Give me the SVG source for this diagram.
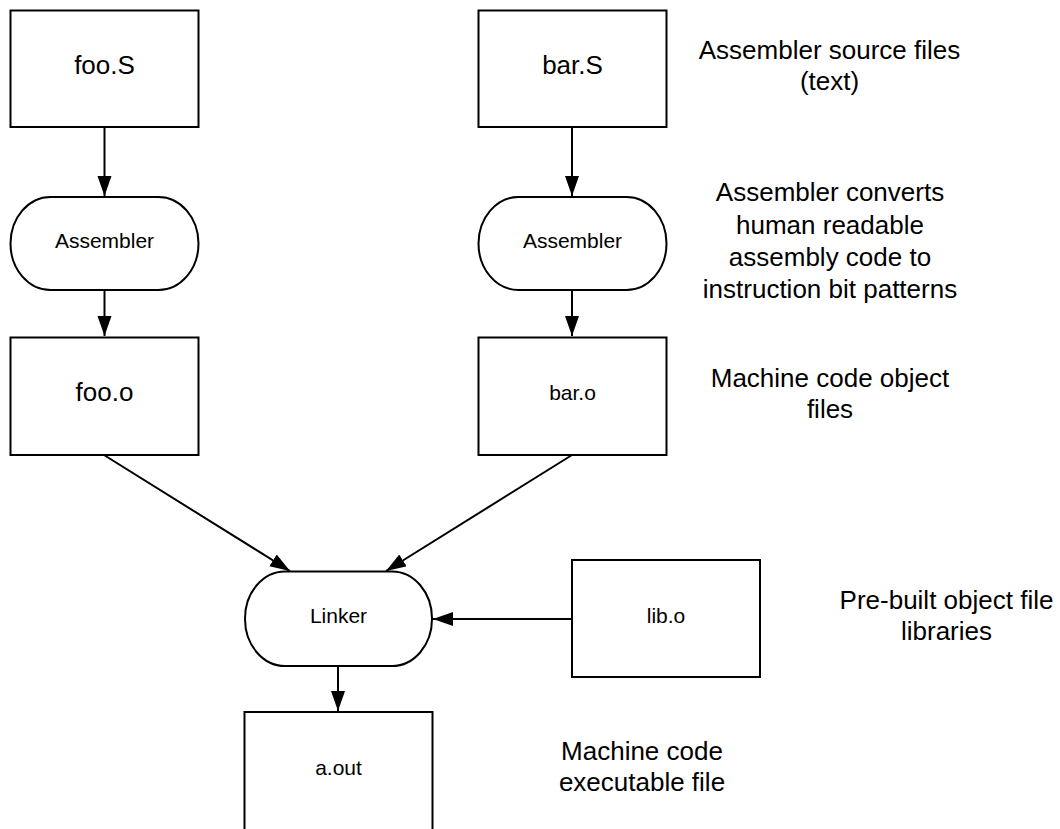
<svg xmlns="http://www.w3.org/2000/svg" width="1060" height="829" viewBox="0 0 1060 829">
<style>
.box{fill:#fff;stroke:#000;stroke-width:2}
.lbl{font-family:"Liberation Sans",Arial,sans-serif;fill:#000;text-anchor:middle}
.big{font-size:26px}
.sm{font-size:21px}
.conn{stroke:#000;stroke-width:2;fill:none;marker-end:url(#ah)}
</style>
<defs>
<marker id="ah" markerUnits="userSpaceOnUse" markerWidth="22" markerHeight="16" refX="20" refY="7" orient="auto">
<path d="M0,0 L20,7 L0,14 z" fill="#000"/>
</marker>
</defs>
<rect width="1060" height="829" fill="#fff"/>
<g id="connectors">
<line class="conn" x1="104.5" y1="127" x2="104.5" y2="196"/>
<line class="conn" x1="104.5" y1="290" x2="104.5" y2="336"/>
<line class="conn" x1="572" y1="127" x2="572" y2="196"/>
<line class="conn" x1="572" y1="290" x2="572" y2="336"/>
<line class="conn" x1="104" y1="455" x2="290" y2="571"/>
<line class="conn" x1="572" y1="455" x2="386" y2="571"/>
<line class="conn" x1="572" y1="619" x2="433" y2="619"/>
<line class="conn" x1="338" y1="666" x2="338" y2="711"/>
</g>
<g id="fooS"><rect class="box" x="10.5" y="10.5" width="188" height="116.5"/><text class="lbl big" x="104.5" y="74">foo.S</text></g>
<g id="asm1"><rect class="box" x="10.5" y="197" width="188" height="93" rx="40" ry="46.5"/><text class="lbl sm" x="104.5" y="248">Assembler</text></g>
<g id="fooO"><rect class="box" x="10.5" y="337.5" width="188" height="117.5"/><text class="lbl big" x="104.5" y="401">foo.o</text></g>
<g id="barS"><rect class="box" x="478.5" y="10.5" width="188" height="116.5"/><text class="lbl big" x="572.5" y="74">bar.S</text></g>
<g id="asm2"><rect class="box" x="478.5" y="197" width="188" height="93" rx="40" ry="46.5"/><text class="lbl sm" x="572.5" y="248">Assembler</text></g>
<g id="barO"><rect class="box" x="478.5" y="337.5" width="188" height="117.5"/><text class="lbl sm" x="572.5" y="400">bar.o</text></g>
<g id="linker"><rect class="box" x="245" y="571.5" width="187" height="94.5" rx="40" ry="47"/><text class="lbl sm" x="338.5" y="623">Linker</text></g>
<g id="libO"><rect class="box" x="572" y="560" width="188" height="117"/><text class="lbl sm" x="666" y="623">lib.o</text></g>
<g id="aout"><rect class="box" x="244.5" y="712" width="188" height="118"/><text class="lbl sm" x="338.5" y="775">a.out</text></g>
<g id="notes">
<text class="lbl big" x="829.5" y="59">Assembler source files</text>
<text class="lbl big" x="829.5" y="90">(text)</text>
<text class="lbl big" x="830" y="201">Assembler converts</text>
<text class="lbl big" x="830" y="234">human readable</text>
<text class="lbl big" x="830" y="266">assembly code to</text>
<text class="lbl big" x="830" y="298">instruction bit patterns</text>
<text class="lbl big" x="830" y="387">Machine code object</text>
<text class="lbl big" x="830" y="418">files</text>
<text class="lbl big" x="946.5" y="609">Pre-built object file</text>
<text class="lbl big" x="946.5" y="640">libraries</text>
<text class="lbl big" x="642" y="760">Machine code</text>
<text class="lbl big" x="642" y="791">executable file</text>
</g>
</svg>
